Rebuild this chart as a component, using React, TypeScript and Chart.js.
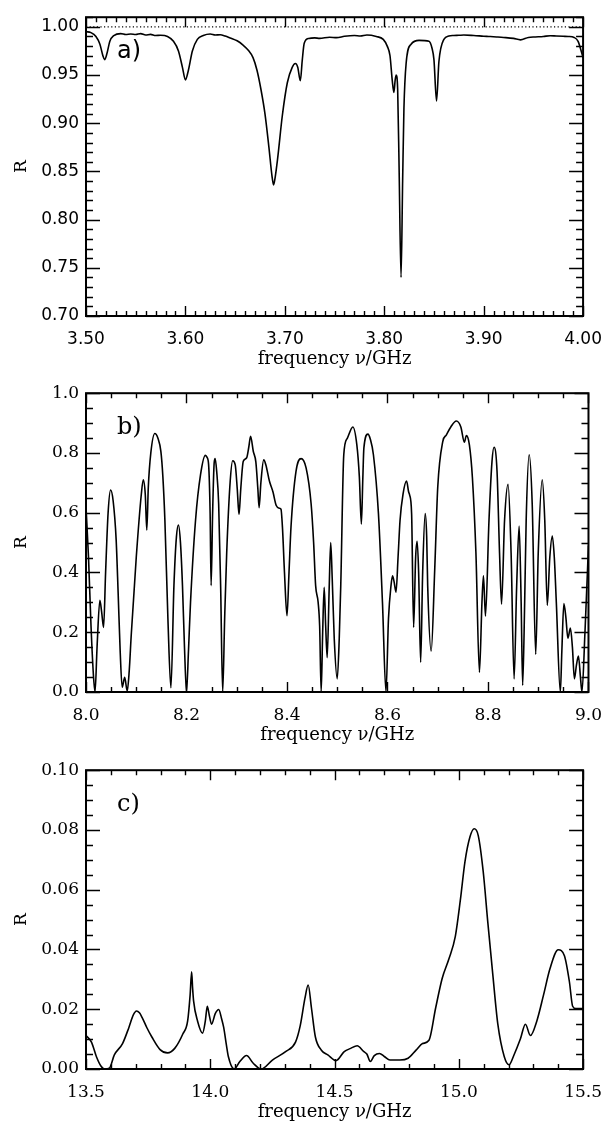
import React, { useEffect, useRef } from 'react';
import { Chart, registerables } from 'chart.js';

Chart.register(...registerables);

// ---------- Panel a) 3.5 - 4.0 GHz ----------
const freqA = [
  3.5, 3.505, 3.51, 3.514, 3.517, 3.5187, 3.521, 3.524, 3.528, 3.535, 3.54, 3.545, 3.55, 3.555, 3.56, 3.565,
  3.57, 3.575, 3.582, 3.588, 3.593, 3.597, 3.6, 3.603, 3.607, 3.612, 3.618, 3.625, 3.63, 3.635, 3.64,
  3.645, 3.652, 3.658, 3.663, 3.668, 3.672, 3.676, 3.68, 3.684, 3.687, 3.6887, 3.69, 3.6926, 3.6975,
  3.7025, 3.7074, 3.7106, 3.713, 3.7156, 3.7175, 3.7195, 3.724, 3.73, 3.735, 3.745, 3.752, 3.76, 3.77,
  3.776, 3.7825, 3.792, 3.799, 3.803, 3.8058, 3.808, 3.8097, 3.811, 3.812, 3.8135, 3.815, 3.8169, 3.8185,
  3.8198, 3.822, 3.827, 3.835, 3.845, 3.848, 3.85, 3.8526, 3.855, 3.86, 3.865, 3.87, 3.875, 3.88, 3.89,
  3.9, 3.905, 3.913, 3.92, 3.93, 3.937, 3.945, 3.952, 3.96, 3.967, 3.973, 3.98, 3.985, 3.991, 3.995, 4.0,
];
const reflA = [
  0.995, 0.994, 0.99, 0.982, 0.97, 0.966, 0.972, 0.985, 0.991, 0.993, 0.992, 0.9925, 0.992, 0.993, 0.9915, 0.9922,
  0.991, 0.9912, 0.99, 0.985, 0.975, 0.958, 0.945, 0.955, 0.975, 0.987, 0.991, 0.9925, 0.9915, 0.9918, 0.9905,
  0.9885, 0.9855, 0.981, 0.976, 0.968, 0.955, 0.935, 0.91, 0.875, 0.846, 0.836, 0.842, 0.862, 0.908,
  0.942, 0.958, 0.962, 0.958, 0.944, 0.965, 0.983, 0.988, 0.9885, 0.988, 0.9892, 0.9888, 0.9902, 0.991,
  0.9905, 0.9915, 0.99, 0.987, 0.98, 0.97, 0.945, 0.932, 0.945, 0.95, 0.935, 0.85, 0.74, 0.84,
  0.915, 0.962, 0.982, 0.986, 0.985, 0.978, 0.966, 0.923, 0.964, 0.987, 0.9905, 0.991, 0.9912, 0.9915, 0.991,
  0.9903, 0.99, 0.9895, 0.989, 0.988, 0.9865, 0.989, 0.9895, 0.99, 0.9908, 0.9905, 0.9902, 0.99, 0.989, 0.985, 0.968,
];
const refLineA = [1.0, 1.0];

// ---------- Panel b) 8.0 - 9.0 GHz ----------
const freqB = [
  8.0, 8.005, 8.01, 8.015, 8.018, 8.022, 8.0276, 8.031, 8.035, 8.039, 8.044, 8.049, 8.054, 8.06, 8.064,
  8.068, 8.072, 8.077, 8.082, 8.086, 8.09, 8.1, 8.11, 8.114, 8.118, 8.121, 8.124, 8.129, 8.137, 8.143,
  8.149, 8.153, 8.157, 8.163, 8.169, 8.175, 8.18, 8.184, 8.188, 8.192, 8.196, 8.2, 8.204, 8.208, 8.218,
  8.228, 8.2375, 8.241, 8.244, 8.247, 8.249, 8.252, 8.255, 8.257, 8.26, 8.264, 8.268, 8.272, 8.276, 8.28,
  8.287, 8.292, 8.297, 8.301, 8.3045, 8.308, 8.313, 8.3195, 8.324, 8.3275, 8.333, 8.338, 8.342, 8.3445,
  8.348, 8.3537, 8.358, 8.365, 8.372, 8.3786, 8.385, 8.388, 8.391, 8.395, 8.4, 8.404, 8.408, 8.418, 8.428,
  8.438, 8.448, 8.453, 8.457, 8.462, 8.465, 8.468, 8.471, 8.474, 8.477, 8.48, 8.484, 8.487, 8.49, 8.494,
  8.5, 8.504, 8.507, 8.513, 8.52, 8.531, 8.539, 8.544, 8.548, 8.551, 8.553, 8.561, 8.566, 8.572, 8.582,
  8.59, 8.597, 8.602, 8.607, 8.61, 8.613, 8.617, 8.621, 8.625, 8.631, 8.638, 8.642, 8.644, 8.648, 8.652,
  8.656, 8.659, 8.662, 8.666, 8.67, 8.675, 8.678, 8.68, 8.687, 8.694, 8.7, 8.71, 8.717, 8.726, 8.737,
  8.746, 8.753, 8.757, 8.763, 8.769, 8.776, 8.783, 8.788, 8.791, 8.795, 8.802, 8.808, 8.812, 8.818, 8.823,
  8.827, 8.833, 8.84, 8.846, 8.852, 8.857, 8.862, 8.866, 8.869, 8.873, 8.876, 8.882, 8.888, 8.895, 8.9,
  8.908, 8.913, 8.918, 8.923, 8.928, 8.932, 8.936, 8.944, 8.947, 8.951, 8.955, 8.959, 8.964, 8.968, 8.972,
  8.976, 8.98, 8.984, 8.987, 8.993, 9.0,
];
const reflB = [
  0.62, 0.45, 0.22, 0.05, 0.0, 0.15, 0.307, 0.27, 0.216, 0.4, 0.6, 0.676, 0.64, 0.51, 0.33,
  0.137, 0.016, 0.049, 0.003, 0.07, 0.19, 0.45, 0.66, 0.71, 0.66, 0.542, 0.685, 0.8, 0.865, 0.85,
  0.805, 0.72, 0.575, 0.246, 0.014, 0.356, 0.52, 0.559, 0.5, 0.356, 0.15, 0.0, 0.14, 0.3, 0.575,
  0.728, 0.792, 0.785, 0.761, 0.6, 0.356, 0.6, 0.765, 0.781, 0.74, 0.63, 0.35, 0.0, 0.25, 0.465,
  0.706, 0.774, 0.76, 0.68, 0.594, 0.68, 0.772, 0.783, 0.82, 0.856, 0.805, 0.77, 0.68, 0.617,
  0.7, 0.777, 0.76, 0.706, 0.67, 0.624, 0.615, 0.612, 0.55, 0.4, 0.255, 0.4, 0.553, 0.739, 0.781,
  0.75, 0.63, 0.5, 0.356, 0.3, 0.22, 0.0, 0.2, 0.35, 0.22, 0.115, 0.35, 0.5, 0.38, 0.18,
  0.044, 0.18, 0.356, 0.794, 0.849, 0.887, 0.827, 0.72, 0.562, 0.72, 0.816, 0.863, 0.845, 0.794, 0.597,
  0.3, 0.0, 0.246, 0.356, 0.389, 0.37, 0.334, 0.45, 0.575, 0.663, 0.706, 0.67, 0.66, 0.597, 0.216,
  0.45, 0.504, 0.4, 0.099, 0.4, 0.597, 0.52, 0.356, 0.137, 0.41, 0.685, 0.838, 0.86, 0.887, 0.907,
  0.887, 0.836, 0.858, 0.827, 0.717, 0.465, 0.066, 0.3, 0.389, 0.254, 0.575, 0.772, 0.819, 0.739, 0.465,
  0.294, 0.575, 0.695, 0.465, 0.044, 0.35, 0.555, 0.3, 0.022, 0.3, 0.575, 0.794, 0.63, 0.126, 0.465,
  0.71, 0.575, 0.29, 0.45, 0.522, 0.45, 0.3, 0.0, 0.137, 0.296, 0.25, 0.18, 0.214, 0.15, 0.044,
  0.09, 0.12, 0.05, 0.0, 0.2, 0.49,
];

// ---------- Panel c) 13.5 - 15.5 GHz ----------
const freqC = [
  13.5, 13.522, 13.542, 13.56, 13.575, 13.594, 13.614, 13.647, 13.673, 13.69, 13.703, 13.715, 13.726,
  13.745, 13.765, 13.798, 13.828, 13.857, 13.89, 13.909, 13.919, 13.925, 13.929, 13.933, 13.949, 13.969,
  13.98, 13.988, 13.996, 14.005, 14.02, 14.034, 14.045, 14.054, 14.065, 14.073, 14.096, 14.119, 14.146,
  14.172, 14.205, 14.25, 14.303, 14.343, 14.362, 14.381, 14.394, 14.407, 14.423, 14.447, 14.473, 14.506,
  14.539, 14.565, 14.591, 14.618, 14.63, 14.644, 14.66, 14.681, 14.7, 14.723, 14.763, 14.796, 14.828,
  14.854, 14.88, 14.907, 14.933, 14.96, 14.986, 15.006, 15.025, 15.045, 15.062, 15.078, 15.098, 15.117,
  15.137, 15.157, 15.183, 15.202, 15.222, 15.248, 15.268, 15.288, 15.314, 15.341, 15.367, 15.4, 15.425,
  15.445, 15.458, 15.471, 15.5,
];
const reflC = [
  0.0112, 0.009, 0.0041, 0.001, 0.0, 0.0003, 0.0047, 0.0085, 0.014, 0.018, 0.0194, 0.0188, 0.0172,
  0.0138, 0.0107, 0.0065, 0.0054, 0.0069, 0.0118, 0.0161, 0.0248, 0.0325, 0.027, 0.0227, 0.016, 0.012,
  0.016, 0.021, 0.018, 0.015, 0.0185, 0.0199, 0.017, 0.0139, 0.008, 0.0041, 0.0, 0.0025, 0.0045,
  0.002, 0.0, 0.003, 0.0058, 0.009, 0.0145, 0.0237, 0.0281, 0.0205, 0.0107, 0.0063, 0.0047, 0.0028,
  0.0058, 0.0069, 0.0078, 0.0058, 0.005, 0.0025, 0.0045, 0.0052, 0.0042, 0.003, 0.003, 0.0036, 0.0063,
  0.0085, 0.0096, 0.0205, 0.0303, 0.0368, 0.0444, 0.0564, 0.0695, 0.0777, 0.0804, 0.0782, 0.0662, 0.0488,
  0.0314, 0.015, 0.0041, 0.0014, 0.0047, 0.0101, 0.015, 0.0112, 0.0161, 0.0248, 0.0336, 0.0399, 0.0379,
  0.0292, 0.021, 0.0202, 0.0202,
];

// ---------- Tick labels ----------
const xTicksA = [3.5, 3.6, 3.7, 3.8, 3.9, 4.0];
const yTicksA = [0.7, 0.75, 0.8, 0.85, 0.9, 0.95, 1.0];
const xTicksB = [8.0, 8.2, 8.4, 8.6, 8.8, 9.0];
const yTicksB = [0.0, 0.2, 0.4, 0.6, 0.8, 1.0];
const xTicksC = [13.5, 14.0, 14.5, 15.0, 15.5];
const yTicksC = [0.0, 0.02, 0.04, 0.06, 0.08, 0.1];

const xTitle = 'frequency ν/GHz';
const yTitle = 'R';

const SANS = '"DejaVu Sans", sans-serif';
const SERIF = '"DejaVu Serif", serif';

type PanelCfg = {
  top: number;
  freq: number[];
  refl: number[];
  xMin: number;
  xMax: number;
  yMin: number;
  yMax: number;
  xTicks: number[];
  yTicks: number[];
  xMinor: number;
  yMinor: number;
  xDec: number;
  yDec: number;
  tickFamily: string;
  label: string;
  labelFamily: string;
  refLine?: number[];
};

const panels: PanelCfg[] = [
  {
    top: 0, freq: freqA, refl: reflA, xMin: 3.5, xMax: 4.0, yMin: 0.7, yMax: 1.01,
    xTicks: xTicksA, yTicks: yTicksA, xMinor: 0.01, yMinor: 0.01, xDec: 2, yDec: 2,
    tickFamily: SANS, label: 'a)', labelFamily: SANS, refLine: refLineA,
  },
  {
    top: 376, freq: freqB, refl: reflB, xMin: 8.0, xMax: 9.0, yMin: 0.0, yMax: 1.0,
    xTicks: xTicksB, yTicks: yTicksB, xMinor: 0.05, yMinor: 0.05, xDec: 1, yDec: 1,
    tickFamily: SERIF, label: 'b)', labelFamily: SERIF,
  },
  {
    top: 753, freq: freqC, refl: reflC, xMin: 13.5, xMax: 15.5, yMin: 0.0, yMax: 0.1,
    xTicks: xTicksC, yTicks: yTicksC, xMinor: 0.1, yMinor: 0.005, xDec: 1, yDec: 2,
    tickFamily: SERIF, label: 'c)', labelFamily: SERIF,
  },
];

const CANVAS_W = 615;
const CANVAS_H = 370;

const frameTicks = {
  id: 'frameTicks',
  afterDatasetsDraw(chart: any, _args: any, opts: any) {
    const { ctx, chartArea: a } = chart;
    const xs = chart.scales.x;
    const ys = chart.scales.y;
    const eps = 1e-9;
    const steps = (min: number, max: number, step: number) => {
      const out: number[] = [];
      const n = Math.round((max - min) / step);
      for (let i = 0; i <= n; i++) out.push(min + i * step);
      return out.filter((v) => v <= max + eps);
    };
    ctx.save();
    ctx.strokeStyle = '#000';
    ctx.lineWidth = 1.4;
    ctx.beginPath();
    const xTick = (v: number, len: number) => {
      const p = Math.round(xs.getPixelForValue(v)) + 0.5;
      ctx.moveTo(p, a.bottom);
      ctx.lineTo(p, a.bottom - len);
      ctx.moveTo(p, a.top);
      ctx.lineTo(p, a.top + len);
    };
    const yTick = (v: number, len: number) => {
      const p = Math.round(ys.getPixelForValue(v)) + 0.5;
      ctx.moveTo(a.left, p);
      ctx.lineTo(a.left + len, p);
      ctx.moveTo(a.right, p);
      ctx.lineTo(a.right - len, p);
    };
    steps(opts.xMin, opts.xMax, opts.xMinor).forEach((v) => xTick(v, 5));
    opts.xTicks.forEach((v: number) => xTick(v, 10));
    steps(opts.yMin, opts.yMax, opts.yMinor).forEach((v) => yTick(v, 7));
    opts.yTicks.forEach((v: number) => yTick(v, 14));
    ctx.stroke();
    ctx.lineWidth = 2;
    ctx.strokeRect(a.left, a.top, a.right - a.left, a.bottom - a.top);
    ctx.fillStyle = '#000';
    ctx.font = `24px ${opts.labelFamily}`;
    ctx.textBaseline = 'middle';
    ctx.textAlign = 'left';
    ctx.fillText(opts.label, a.left + 31, a.top + 35);
    ctx.restore();
  },
};

function Panel({ cfg }: { cfg: PanelCfg }) {
  const ref = useRef<HTMLCanvasElement | null>(null);
  useEffect(() => {
    if (!ref.current) return;
    const datasets: any[] = [];
    if (cfg.refLine) {
      datasets.push({
        data: [
          { x: cfg.xMin, y: cfg.refLine[0] },
          { x: cfg.xMax, y: cfg.refLine[1] },
        ],
        borderColor: '#000',
        borderWidth: 1.2,
        borderDash: [1.2, 2.4],
        pointRadius: 0,
        fill: false,
      });
    }
    datasets.push({
      data: cfg.freq.map((f, i) => ({ x: f, y: cfg.refl[i] })),
      borderColor: '#000',
      borderWidth: 1.6,
      pointRadius: 0,
      fill: false,
      cubicInterpolationMode: 'monotone',
    });
    const tickFont = { family: cfg.tickFamily, size: 17, weight: 'normal' as const };
    const titleFont = { family: SERIF, size: 18, weight: 'normal' as const };
    const chart = new Chart(ref.current, {
      type: 'line',
      data: { datasets },
      plugins: [frameTicks],
      options: {
        animation: false,
        responsive: false,
        maintainAspectRatio: false,
        events: [],
        layout: { padding: { left: 11, right: 21, top: 10, bottom: 0 } },
        plugins: {
          legend: { display: false },
          tooltip: { enabled: false },
          frameTicks: {
            xMin: cfg.xMin, xMax: cfg.xMax, yMin: cfg.yMin, yMax: cfg.yMax,
            xMinor: cfg.xMinor, yMinor: cfg.yMinor, xTicks: cfg.xTicks, yTicks: cfg.yTicks,
            label: cfg.label, labelFamily: cfg.labelFamily,
          },
        } as any,
        scales: {
          x: {
            type: 'linear',
            min: cfg.xMin,
            max: cfg.xMax,
            afterBuildTicks: (s: any) => {
              s.ticks = cfg.xTicks.map((v) => ({ value: v }));
            },
            afterFit: (s: any) => {
              s.height = 54;
            },
            grid: { display: false, drawTicks: false },
            border: { display: false },
            ticks: {
              padding: 13,
              color: '#000',
              font: tickFont,
              maxRotation: 0,
              autoSkip: false,
              callback: (v: any) => Number(v).toFixed(cfg.xDec),
            },
            title: { display: true, text: xTitle, color: '#000', font: titleFont, padding: 0 },
          },
          y: {
            type: 'linear',
            min: cfg.yMin,
            max: cfg.yMax,
            afterBuildTicks: (s: any) => {
              s.ticks = cfg.yTicks.map((v) => ({ value: v }));
            },
            afterFit: (s: any) => {
              s.width = 75;
            },
            grid: { display: false, drawTicks: false },
            border: { display: false },
            ticks: {
              padding: 7,
              color: '#000',
              font: tickFont,
              autoSkip: false,
              callback: (v: any) => Number(v).toFixed(cfg.yDec),
            },
            title: { display: true, text: yTitle, color: '#000', font: { family: SERIF, size: 17 }, padding: 0 },
          },
        },
      } as any,
    });
    return () => chart.destroy();
  }, [cfg]);
  return (
    <canvas
      ref={ref}
      width={CANVAS_W}
      height={CANVAS_H}
      style={{ position: 'absolute', left: 0, top: cfg.top, width: CANVAS_W, height: CANVAS_H, display: 'block' }}
    />
  );
}

export default function App() {
  return (
    <div style={{ position: 'absolute', left: 0, top: 0, width: 615, height: 1123, background: '#fff' }}>
      {panels.map((p, i) => (
        <Panel key={i} cfg={p} />
      ))}
    </div>
  );
}
